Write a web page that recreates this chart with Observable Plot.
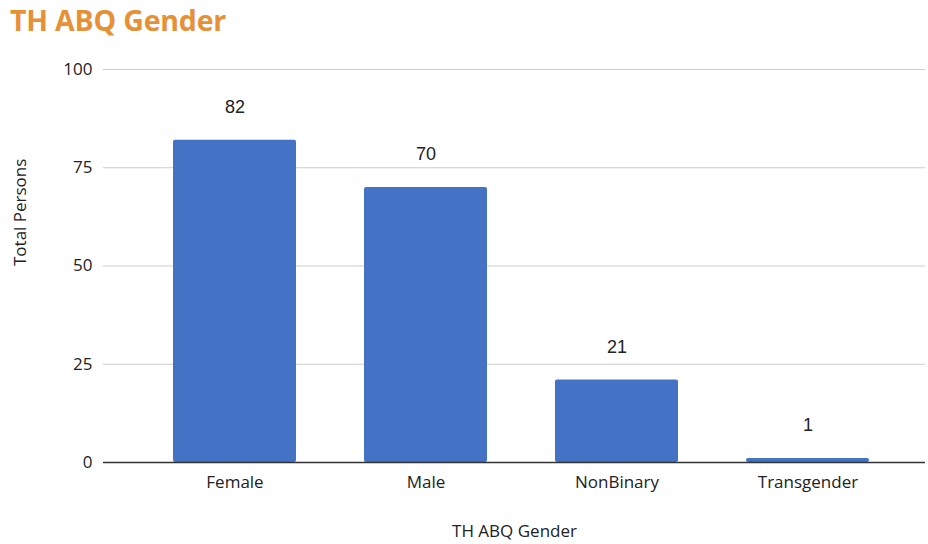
<!DOCTYPE html>
<html>
<head>
<meta charset="utf-8">
<script src="https://cdn.jsdelivr.net/npm/d3@7"></script>
<script src="https://cdn.jsdelivr.net/npm/@observablehq/plot@0.6"></script>
<style>
  html, body { margin: 0; padding: 0; background: #fff; }
  #title { height: 44px; line-height: 40px; padding-left: 10px; font-family: "Open Sans", sans-serif; font-weight: 700; font-size: 28.5px; color: #e69138; box-sizing: border-box; letter-spacing: -0.2px; }
  svg { display: block; }
</style>
</head>
<body>
<div id="title">TH ABQ Gender</div>
<div id="chart"></div>
<script>
const categories = ["Female", "Male", "NonBinary", "Transgender"];
const totals = [82, 70, 21, 1];
const yTicks = [0, 25, 50, 75, 100];
const data = categories.map((c, i) => ({category: c, total: totals[i]}));

const chart = Plot.plot({
  width: 928,
  height: 500,
  marginTop: 25,
  marginBottom: 82,
  marginLeft: 103,
  marginRight: 3,
  style: {fontFamily: "'Open Sans', sans-serif", fontSize: "17px", color: "#222", background: "#fff"},
  x: {domain: categories, paddingInner: 0.357, paddingOuter: 0.327, align: 0.552, label: null, tickSize: 0, tickPadding: 12},
  y: {domain: [0, 100], ticks: yTicks, label: null, tickSize: 0, tickPadding: 11},
  marks: [
    Plot.ruleY(yTicks.filter(d => d > 0), {stroke: "#cccccc", strokeWidth: 1}),
    Plot.barY(data, {x: "category", y: "total", fill: "#4472c4", rx: 2}),
    Plot.ruleY([0], {stroke: "#333333", strokeWidth: 1.3}),
    Plot.text(data, {x: "category", y: "total", text: d => String(d.total), dy: -33, fontFamily: "'Liberation Sans', Arial, sans-serif", fontSize: 18, fill: "#222"}),
    Plot.axisX({tickSize: 0, tickPadding: 13, fontSize: 17, label: null}),
    Plot.axisY({ticks: yTicks, tickSize: 0, tickPadding: 11, fontSize: 17, label: null}),
    Plot.text(["Total Persons"], {frameAnchor: "left", dx: -83, rotate: -90, fontSize: 17, fill: "#222"}),
    Plot.text(["TH ABQ Gender"], {frameAnchor: "bottom", dy: 74, fontSize: 17, fill: "#222"})
  ]
});
document.getElementById("chart").appendChild(chart);
</script>
</body>
</html>
